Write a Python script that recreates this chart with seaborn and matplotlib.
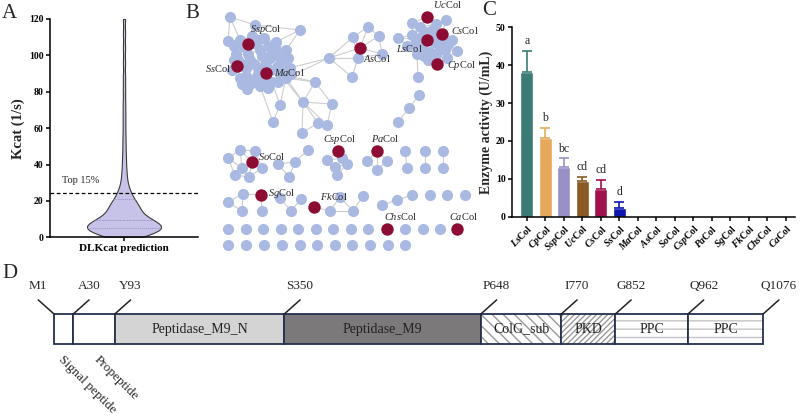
import matplotlib
matplotlib.use('Agg')
import matplotlib.pyplot as plt
import numpy as np
import pandas as pd
import seaborn as sns

# ---- panel A: predicted kcat values ----
kcat = [0.3, 0.5, 0.8, 1.1, 1.4, 1.7, 2.0, 2.2, 2.4, 2.7, 2.9, 3.1, 3.3, 3.5, 3.7, 3.9, 4.0, 4.2, 4.3, 4.5,
        4.6, 4.7,
        4.9, 5.0, 5.2, 5.4, 5.6, 5.8, 6.0, 6.2, 6.4, 6.6, 6.8, 7.0, 7.2, 7.4, 7.6, 7.8, 8.0, 8.2, 8.4, 8.6,
        8.8, 9.0,
        9.3, 9.6, 9.9, 10.3, 10.7, 11.1, 11.5, 11.9, 12.3, 12.8, 13.3, 13.8, 14.3, 14.8, 15.3, 15.8, 16.3,
        16.8, 17.3, 17.8, 18.2, 18.5,
        19.2, 20.0, 20.8, 21.7, 22.6, 23.6, 24.7, 26, 27.5, 29.5, 32, 35, 38, 42, 46, 51, 56, 62, 68, 74,
        81, 88, 96, 104, 112, 120]
top15_cutoff = 24.5

# ---- panel C: enzyme activity ----
strains = ['Ls', 'Cp', 'Ssp', 'Uc', 'Cs', 'Ss', 'Ma', 'As', 'So', 'Csp', 'Pa', 'Sg', 'Fk', 'Chs', 'Ca']
activity = [38.1, 20.9, 13.0, 9.3, 7.3, 2.3, 0, 0, 0, 0, 0, 0, 0, 0, 0]
activity_sd = [5.6, 2.6, 2.4, 1.3, 2.4, 1.6, 0, 0, 0, 0, 0, 0, 0, 0, 0]
sig_letters = ['a', 'b', 'bc', 'cd', 'cd', 'd', '', '', '', '', '', '', '', '', '']
bar_colors = ['#3b7d76', '#e6a95c', '#9a90c6', '#8a5a24', '#a0124a', '#0c16b0'] + ['#888888'] * 9

# ---- panel B: sequence similarity network (layout positions) ----
# each group: node (x, y) positions, edges as local index pairs, red (characterised) node indices
ma_nodes = [(230, 17), (255, 25), (300, 30), (228, 41),
            (240, 40), (252, 36), (264, 38), (276, 42), (286, 50),
            (236, 54), (248, 54), (260, 50), (272, 52), (284, 60), (290, 68),
            (242, 64), (254, 64), (266, 62), (278, 66), (286, 78),
            (246, 76), (258, 74), (280, 74), (272, 82), (260, 86), (250, 84), (232, 70), (268, 46),
            (247, 89), (315, 82), (329, 58), (280, 105), (303, 102), (332, 104), (273, 122), (318, 123),
            (327, 125), (302, 133),
            (248, 44), (237, 66), (266, 73),
            (368, 27), (379, 36), (353, 37), (382, 54), (358, 58), (352, 77), (360, 48),
            (244, 47), (256, 44), (270, 58), (262, 56), (250, 60), (238, 60), (246, 68), (258, 68),
            (270, 70), (282, 67), (264, 79), (254, 80), (240, 78), (288, 58), (276, 50), (234, 46),
            (278, 82), (268, 88), (291, 74), (258, 40), (242, 84), (234, 60), (280, 58)]
ma_edges = [(0, 1), (0, 3), (0, 4), (1, 2), (1, 5), (1, 6), (2, 7), (2, 8), (3, 4), (3, 9),
            (4, 5), (5, 6), (6, 7), (7, 8), (4, 9), (9, 10), (10, 11), (11, 12), (12, 13), (13, 14), (8, 13),
            (15, 16), (16, 17), (17, 18), (18, 19), (20, 21), (21, 22), (22, 19), (23, 24), (24, 25), (25, 20),
            (26, 15), (26, 20), (27, 6), (27, 12),
            (28, 20), (28, 21), (29, 19), (29, 22), (30, 14), (30, 19), (31, 23), (31, 19), (32, 19), (32, 22),
            (32, 29), (33, 29), (33, 32), (34, 31), (34, 24), (35, 32), (36, 32), (36, 33), (37, 32), (37, 35),
            (38, 4), (38, 10), (38, 1), (39, 26), (39, 9), (40, 21), (40, 23), (40, 18),
            (41, 42), (41, 43), (41, 47), (43, 47), (42, 47), (42, 44), (47, 44), (47, 45), (45, 44), (43, 45),
            (45, 46), (30, 43), (30, 47), (30, 45), (30, 46)]
ma_red = [38, 39, 40, 47]

ls_nodes = [(446, 20), (412, 23), (420, 27), (432, 30), (436, 24),
            (398, 38), (412, 35), (407, 46), (422, 48), (417, 54),
            (440, 48), (448, 44), (457, 51), (428, 60), (447, 58),
            (420, 38), (434, 42), (430, 52),
            (418, 77), (419, 95), (409, 108), (398, 122),
            (427, 17), (442, 34), (427, 40), (437, 64),
            (415, 44), (425, 32), (440, 40), (424, 56), (436, 55), (452, 40), (445, 50), (433, 36)]
ls_edges = [(0, 4), (0, 23), (1, 2), (1, 22), (2, 3), (2, 4), (3, 4), (3, 23), (5, 6), (5, 7), (6, 15), (6, 2),
            (7, 8), (8, 9), (9, 13), (10, 11), (11, 12), (12, 14), (10, 14), (13, 25), (14, 25), (15, 16),
            (16, 17), (17, 13), (24, 15), (24, 16), (24, 8), (24, 3), (23, 11), (23, 16), (22, 4), (22, 2),
            (1, 6), (16, 10), (17, 8), (9, 18), (19, 20), (20, 21), (5, 15), (12, 10), (7, 15)]
ls_red = [22, 23, 24, 25]

so_nodes = [(240, 150), (255, 151), (228, 158), (242, 168), (235, 175), (249, 177), (262, 168), (252, 162),
            (278, 164), (289, 177), (295, 162), (308, 150)]
so_edges = [(0, 1), (0, 2), (2, 4), (4, 5), (5, 6), (6, 1), (3, 0), (3, 2), (3, 7), (7, 1), (7, 6), (7, 5),
            (4, 3), (0, 7), (3, 5), (8, 9), (9, 10), (8, 10), (10, 11)]
so_red = [7]

csp_nodes = [(327, 160), (335, 167), (347, 164), (337, 175), (342, 158), (338, 151),
             (367, 161), (387, 161), (377, 170), (377, 151),
             (405, 151), (407, 168), (425, 151), (425, 168), (443, 151), (443, 168)]
csp_edges = [(0, 1), (1, 2), (1, 3), (2, 3), (0, 4), (4, 2), (5, 4), (5, 0), (5, 2), (0, 3),
             (9, 6), (9, 7), (6, 8), (7, 8), (9, 8), (10, 11), (12, 13), (14, 15)]
csp_red = [5, 9]

sg_nodes = [(228, 202), (243, 194), (242, 211), (262, 211), (261, 195),
            (280, 198), (291, 211), (301, 199),
            (330, 211), (340, 197), (353, 211), (363, 196), (314, 207),
            (382, 205), (397, 200), (412, 195), (430, 195), (447, 195), (465, 195)]
sg_edges = [(0, 1), (0, 2), (1, 4), (1, 2), (4, 3), (5, 6), (6, 7),
            (12, 8), (8, 9), (9, 10), (10, 11), (8, 10), (13, 14), (14, 15)]
sg_red = [4, 12]

row_nodes = [(228, 229), (246, 229), (263, 229), (281, 229), (298, 229), (316, 229), (333, 229),
             (351, 229), (368, 229), (387, 229), (405, 229), (423, 229), (440, 229), (457, 229),
             (228, 245), (246, 245), (264, 245), (282, 245), (300, 245), (317, 245), (335, 245),
             (352, 245), (370, 245), (388, 245), (405, 245)]
row_edges = []
row_red = [9, 13]

net_groups = [(ma_nodes, ma_edges, ma_red), (ls_nodes, ls_edges, ls_red), (so_nodes, so_edges, so_red),
              (csp_nodes, csp_edges, csp_red), (sg_nodes, sg_edges, sg_red), (row_nodes, row_edges, row_red)]

label_text = ['Ssp', 'Ss', 'Ma', 'As', 'Uc', 'Cs', 'Ls', 'Cp', 'So', 'Csp', 'Pa', 'Sg', 'Fk', 'Chs', 'Ca']
label_x = [250, 231, 274, 363, 433, 451, 423, 447, 258, 339, 385, 268, 320, 400, 463]
label_y = [29, 68, 72, 58, 5, 31, 48, 66, 157, 139, 139, 193, 197, 217, 217]
label_ha = ['left', 'right', 'left', 'left', 'left', 'left', 'right', 'left', 'left', 'center', 'center',
            'left', 'left', 'center', 'center']

# ---- panel D: domain architecture ----
dom_names = ['', '', 'Peptidase_M9_N', 'Peptidase_M9', 'ColG_sub', 'PKD', 'PPC', 'PPC']
dom_start = [1, 30, 93, 350, 648, 770, 852, 962]
dom_end = [30, 93, 350, 648, 770, 852, 962, 1076]
dom_fill = ['white', 'white', '#d4d4d4', '#7b7979', 'white', 'white', 'white', 'white']
dom_hatch = [None, None, None, None, '\\\\\\', '//////', '--', '--']
site_labels = ['M1', 'A30', 'Y93', 'S350', 'P648', 'I770', 'G852', 'Q962', 'Q1076']
site_pos = [1, 30, 93, 350, 648, 770, 852, 962, 1076]

sns.set_style('ticks')
plt.rcParams['font.family'] = ['Liberation Serif', 'DejaVu Serif']
plt.rcParams['mathtext.fontset'] = 'custom'
plt.rcParams['mathtext.rm'] = 'Liberation Serif'
plt.rcParams['mathtext.it'] = 'Liberation Serif:italic'
plt.rcParams['mathtext.bf'] = 'Liberation Serif:bold'
plt.rcParams['mathtext.bfit'] = 'Liberation Serif:italic:bold'

W, H = 802, 417
fig = plt.figure(figsize=(W / 100, H / 100), dpi=100)


def style_axis(ax, size=7):
    for s in ['left', 'bottom']:
        ax.spines[s].set_linewidth(1.1)
        ax.spines[s].set_color('black')
    ax.tick_params(direction='out', length=3, width=1.1, labelsize=size, pad=1.5, colors='black')
    for lbl in ax.get_yticklabels() + ax.get_xticklabels():
        lbl.set_fontweight('bold')


# A - violin
axA = fig.add_axes([50 / W, 1 - 237.3 / H, 148 / W, 218.3 / H])
sns.violinplot(y=kcat, ax=axA, color='#c7c2e8', saturation=1, inner='quart', cut=0, width=0.5,
               linewidth=0.8, linecolor='#3a3a3a', bw_adjust=0.3,
               inner_kws=dict(color='#a39dd0', linewidth=0.7))
axA.set_xlim(-0.5, 0.5)
axA.set_ylim(0, 120)
axA.set_yticks(np.arange(0, 121, 20))
axA.set_xticks([0])
axA.set_xticklabels(['DLKcat prediction'], fontsize=8)
axA.axhline(top15_cutoff, ls=(0, (3, 2)), color='black', lw=0.9)
axA.text(-0.42, 31, 'Top 15%', fontsize=7.5, va='center')
axA.set_ylabel('Kcat (1/s)', fontsize=10.5, fontweight='bold', labelpad=3)
sns.despine(ax=axA)
style_axis(axA)
axA.tick_params(axis='x', labelsize=8)

# C - bars
axC = fig.add_axes([512 / W, 1 - 216.7 / H, 283 / W, 189.4 / H])
df = pd.DataFrame({'strain': strains, 'activity': activity})
sns.barplot(data=df, x='strain', y='activity', hue='strain', palette=bar_colors, legend=False,
            ax=axC, width=0.7, saturation=1, errorbar=None)
for i, (v, sd, c, let) in enumerate(zip(activity, activity_sd, bar_colors, sig_letters)):
    if sd > 0:
        axC.errorbar(i, v, yerr=[[0], [sd]], fmt='none', ecolor=c, elinewidth=1.2, capsize=3.5, capthick=1.2)
    if let:
        axC.text(i, v + sd + 1.0, let, ha='center', va='bottom', fontsize=8.5)
axC.set_xlim(-0.8, 14.5)
axC.set_ylim(0, 50)
axC.set_yticks(np.arange(0, 51, 10))
axC.set_xticks(range(len(strains)))
axC.set_xticklabels([r'$\mathbfit{%s}$Col' % s for s in strains], rotation=45, ha='right',
                    rotation_mode='anchor', fontsize=7)
axC.set_xlabel('')
axC.set_ylabel('Enzyme activity (U/mL)', fontsize=10, fontweight='bold', labelpad=2)
sns.despine(ax=axC)
style_axis(axC)

# B - network
axB = fig.add_axes([200 / W, 1 - 252 / H, 285 / W, 252 / H])
rows = []
for nodes, edges, red in net_groups:
    for a, b in edges:
        axB.plot([nodes[a][0], nodes[b][0]], [nodes[a][1], nodes[b][1]], color='#cdcdcd', lw=0.8, zorder=1)
    for k, (x, y) in enumerate(nodes):
        rows.append({'x': x, 'y': y, 'kind': 'red' if k in red else 'blue'})
net = pd.DataFrame(rows)
sns.scatterplot(data=net[net.kind == 'blue'], x='x', y='y', color='#a9b9e1', s=64, linewidth=0, ax=axB,
                zorder=2, legend=False)
sns.scatterplot(data=net[net.kind == 'red'], x='x', y='y', color='#8c0c33', s=80, linewidth=0, ax=axB,
                zorder=3, legend=False)
axB.set_xlim(200, 485)
axB.set_ylim(252, 0)
axB.axis('off')
for t, x, y, ha in zip(label_text, label_x, label_y, label_ha):
    axB.text(x, y, r'$\mathit{%s}$Col' % t, ha=ha, va='center', fontsize=7.5, zorder=4)

# D - domains
axD = fig.add_axes([0, 0, 1, 157 / H])
axD.set_xlim(-81, 1135)
axD.set_ylim(-2.43, 2.8)
axD.axis('off')
navy = '#24324f'
for name, s, e, fc, ht in zip(dom_names, dom_start, dom_end, dom_fill, dom_hatch):
    hc = '#c4c4c4' if ht == '--' else '#9a9a9a'
    axD.barh(0.5, e - s, left=s, height=1, color=fc, edgecolor=hc, linewidth=0, hatch=ht)
    axD.barh(0.5, e - s, left=s, height=1, fill=False, edgecolor=navy, linewidth=1.3)
    if name:
        axD.text((s + e) / 2, 0.5, name, ha='center', va='center', fontsize=10, color='#222222')
for lbl, p in zip(site_labels, site_pos):
    dx = -24 if p == 1 else 24
    axD.plot([p, p + dx], [1, 1.47], color='#222222', lw=1.1)
    axD.text(p + dx, 1.92, lbl, ha='center', va='center', fontsize=9.5)
axD.text(10, -0.45, 'Signal peptide', rotation=-45, rotation_mode='anchor', ha='left', va='center',
         fontsize=9.5)
axD.text(64, -0.45, 'Propeptide', rotation=-45, rotation_mode='anchor', ha='left', va='center',
         fontsize=9.5)

# panel letters
for letter, px, py in [('A', 2, 13.5), ('B', 185, 13.5), ('C', 482, 10.5), ('D', 2, 273.5)]:
    fig.text(px / W, 1 - py / H, letter, fontsize=15, ha='left', va='center')

fig.savefig('out.png', dpi=100)
